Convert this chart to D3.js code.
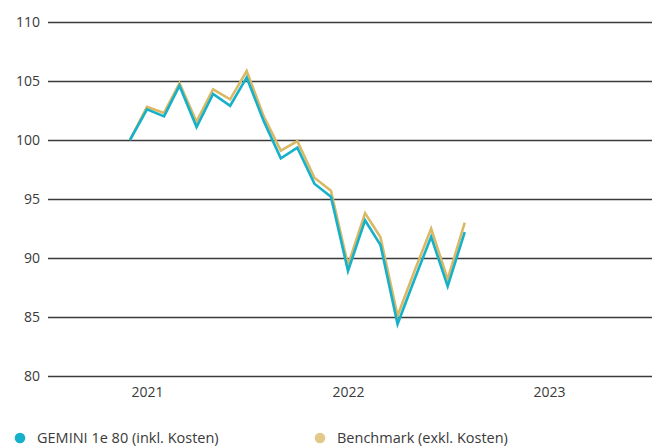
<!DOCTYPE html>
<html><head><meta charset="utf-8">
<script src="https://cdn.jsdelivr.net/npm/d3@7"></script>
<style>body{margin:0;background:#fff}svg{display:block}text{font-family:"Open Sans",Lato,sans-serif;fill:#3a3a3a}</style>
</head><body><svg id="c" width="655" height="447"></svg>
<script>
const months = ["2020-12","2021-01","2021-02","2021-03","2021-04","2021-05","2021-06","2021-07","2021-08","2021-09","2021-10","2021-11","2021-12","2022-01","2022-02","2022-03","2022-04","2022-05","2022-06","2022-07","2022-08"];
const gemini = [100,102.6,102.0,104.6,101.1,103.9,102.9,105.3,101.6,98.45,99.35,96.3,95.2,88.9,93.2,91.1,84.4,88.1,91.8,87.6,92.2];
const benchmark = [100,102.8,102.3,104.8,101.55,104.3,103.45,105.85,102.0,99.1,99.9,96.8,95.7,89.4,93.8,91.75,85.1,88.8,92.5,88.2,93.0];
const yTicks = [80,85,90,95,100,105,110];
const xTicks = ["2021-01","2022-01","2023-01"];
const legend = [{name:"GEMINI 1e 80 (inkl. Kosten)", color:"#16b1c8"},{name:"Benchmark (exkl. Kosten)", color:"#e3c88c"}];

const parse = d3.timeParse("%Y-%m");
const svg = d3.select("#c");
const x = d3.scaleTime().domain([parse("2021-01"), parse("2023-01")]).range([147, 549]);
const y = d3.scaleLinear().domain([80,110]).range([376, 22]);

const yAxis = svg.append("g").attr("transform","translate(48,0)")
  .call(d3.axisRight(y).tickValues(yTicks).tickSize(604).tickFormat(d3.format("d")));
yAxis.select(".domain").remove();
yAxis.selectAll(".tick line").attr("stroke","#3a3a3a").attr("stroke-width",1.3);
yAxis.selectAll(".tick text").attr("x",-8).attr("text-anchor","end").attr("dy","0.35em")
  .style("font-size","14px").attr("fill","#3a3a3a");

const xAxis = svg.append("g").attr("transform","translate(0,376)")
  .call(d3.axisBottom(x).tickValues(xTicks.map(parse)).tickSize(0).tickPadding(11).tickFormat(d3.timeFormat("%Y")));
xAxis.select(".domain").remove();
xAxis.selectAll(".tick text").style("font-size","14px").attr("fill","#3a3a3a");

const line = d3.line().x((d,i)=>x(parse(months[i]))).y(d=>y(d));
svg.append("path").datum(benchmark).attr("d",line).attr("fill","none").attr("stroke","#dab865").attr("stroke-width",2.6).attr("stroke-linejoin","miter");
svg.append("path").datum(gemini).attr("d",line).attr("fill","none").attr("stroke","#16b1c8").attr("stroke-width",2.6).attr("stroke-linejoin","miter");

const lg = svg.append("g");
const lx = [20, 320];
legend.forEach((l,i)=>{
  lg.append("circle").attr("cx",lx[i]).attr("cy",438).attr("r",5.3).attr("fill",l.color);
  lg.append("text").attr("x",lx[i]+17).attr("y",438).attr("dy","0.35em").style("font-size","14.5px").text(l.name);
});
</script></body></html>
